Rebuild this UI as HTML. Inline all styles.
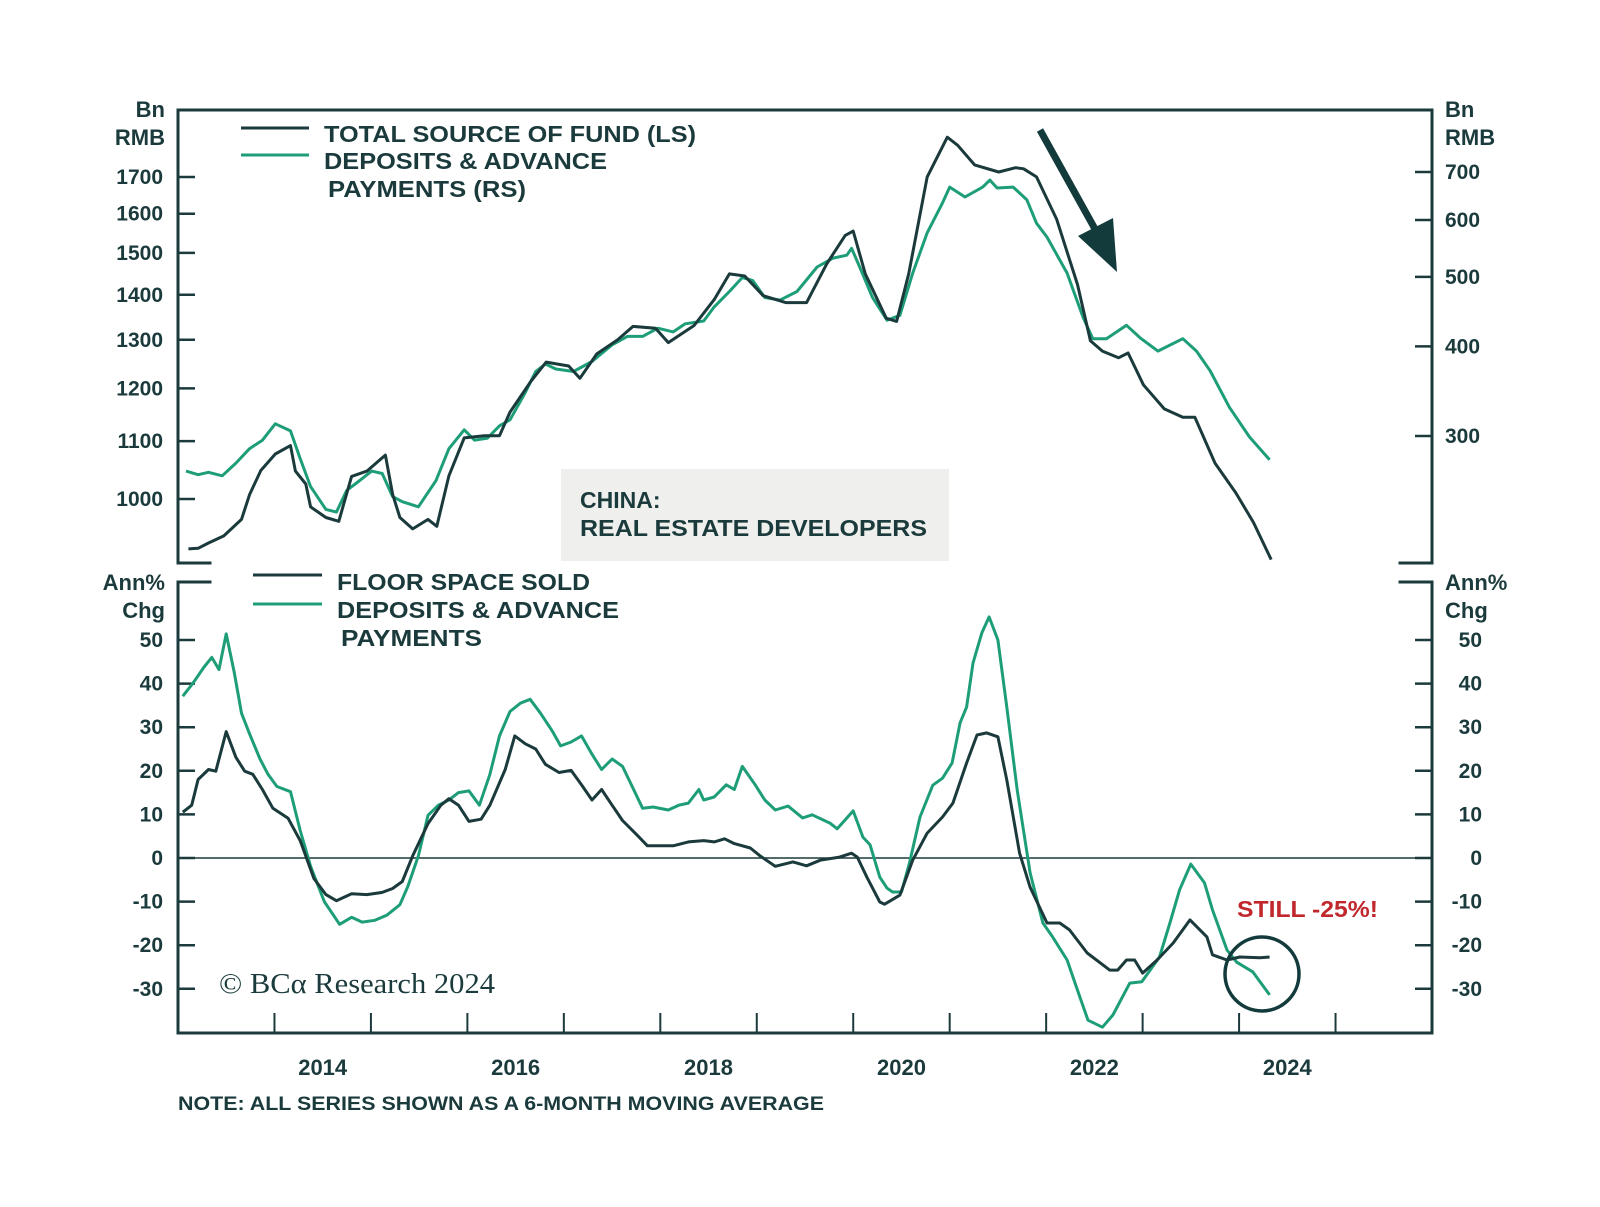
<!DOCTYPE html>
<html>
<head>
<meta charset="utf-8">
<style>
html,body{margin:0;padding:0;background:#fff;}
svg{display:block;}
text{font-family:"Liberation Sans",sans-serif;fill:#1b3a3c;font-weight:bold;}
</style>
</head>
<body>
<svg id="chart" width="1600" height="1207" viewBox="0 0 1600 1207" xmlns="http://www.w3.org/2000/svg">
  <rect x="0" y="0" width="1600" height="1207" fill="#ffffff"/>
  <rect x="561" y="469" width="388" height="92" fill="#efefed"/>
  <text x="580" y="508" font-size="23">CHINA:</text>
  <text x="580" y="536" font-size="23" textLength="347" lengthAdjust="spacingAndGlyphs">REAL ESTATE DEVELOPERS</text>
  <g id="axes"></g>
  <g id="series"></g>
  <g>
    <line x1="241" y1="128" x2="309" y2="128" stroke="#1b3a3c" stroke-width="3"/>
    <text x="324" y="142" font-size="23" textLength="372" lengthAdjust="spacingAndGlyphs">TOTAL SOURCE OF FUND (LS)</text>
    <line x1="241" y1="155" x2="309" y2="155" stroke="#1e9e78" stroke-width="3"/>
    <text x="324" y="169" font-size="23" textLength="283" lengthAdjust="spacingAndGlyphs">DEPOSITS &amp; ADVANCE</text>
    <text x="328" y="197" font-size="23" textLength="198" lengthAdjust="spacingAndGlyphs">PAYMENTS (RS)</text>
  </g>
  <g>
    <line x1="253" y1="575" x2="322" y2="575" stroke="#1b3a3c" stroke-width="3"/>
    <text x="337" y="590" font-size="23" textLength="253" lengthAdjust="spacingAndGlyphs">FLOOR SPACE SOLD</text>
    <line x1="253" y1="604" x2="322" y2="604" stroke="#1e9e78" stroke-width="3"/>
    <text x="337" y="618" font-size="23" textLength="282" lengthAdjust="spacingAndGlyphs">DEPOSITS &amp; ADVANCE</text>
    <text x="341" y="646" font-size="23" textLength="141" lengthAdjust="spacingAndGlyphs">PAYMENTS</text>
  </g>
  <g>
    <line x1="1040" y1="130" x2="1100" y2="238" stroke="#133b3c" stroke-width="7"/>
    <polygon points="1117,272 1078,236 1113,218" fill="#133b3c"/>
  </g>
  <text x="1237" y="917" font-size="23" fill="#c0282d" style="fill:#c0282d" textLength="141" lengthAdjust="spacingAndGlyphs">STILL -25%!</text>
  <circle cx="1262" cy="974" r="37" fill="none" stroke="#133b3c" stroke-width="3.5"/>
  <text x="219" y="993" font-size="28" style="font-family:'Liberation Serif',serif;font-weight:normal" textLength="276" lengthAdjust="spacingAndGlyphs">© BCα Research 2024</text>
  <text x="178" y="1110" font-size="19" textLength="646" lengthAdjust="spacingAndGlyphs">NOTE: ALL SERIES SHOWN AS A 6-MONTH MOVING AVERAGE</text>
</svg>
<script>
// ---- data (months since Jan 2013) ----
const tsfMonths = [1.3,2.5,3.8,5.7,7.9,8.9,10.3,12.1,14,14.6,15.9,16.5,18.4,20,21.6,23.5,25.8,26.7,27.6,29.2,31.1,32.2,33.7,35.6,38.1,40,41.3,43.9,45.8,48.6,50,52.1,54.7,56.6,59.4,61,64.2,66.7,68.6,70.5,72.8,75.6,78.2,80.7,83,84,85.5,88.1,89.4,90.9,93.2,95.7,97,99.1,102.1,104.2,105.2,106.8,109.3,111.9,113.5,115,117,118.2,120.1,122.7,125,126.5,129,131.6,133.8,136];
const tsfValues = [921,922,930,941,967,1007,1048,1077,1092,1047,1025,987,970,964,1038,1047,1075,1008,970,952,967,956,1039,1106,1110,1110,1154,1214,1253,1245,1220,1270,1300,1329,1325,1294,1331,1389,1449,1444,1398,1382,1382,1473,1544,1555,1449,1347,1340,1449,1700,1815,1791,1734,1714,1726,1723,1700,1586,1424,1298,1276,1262,1272,1207,1160,1144,1144,1061,1010,962,905];
const depMonths = [1.0,2.5,3.8,5.5,7.2,8.9,10.5,12.1,14,15.2,16.5,18.4,19.7,21,22.2,24.1,25.4,26.7,27.9,29.9,32.1,33.7,35.6,36.9,38.5,40,41.3,43.2,44.5,45.7,47,49.2,51.5,54,55.9,57.8,59.7,61.6,63.1,65.4,66.7,68.6,70.2,71.5,73,74.9,77,79.5,81.5,83.2,83.8,84.8,86.4,88.2,89.8,91.4,93.2,95.1,96,97.9,100.1,101,101.9,103.9,105.6,106.8,108.1,110.6,112.6,113.8,115.5,118,119.7,121.9,125,126.7,128.4,130.8,133.3,135.8];
const depValues = [268,265,267,264,275,288,296,312,305,279,255,237,235,252,258,268,266,247,243,239,260,288,306,296,298,310,316,345,369,378,372,369,381,402,413,413,424,419,430,434,454,477,499,494,468,464,477,516,531,536,548,516,468,435,442,506,576,634,667,646,667,682,665,667,640,594,568,506,439,410,410,428,411,394,410,394,370,329,299,278];
const floorMonths = [0.6,1.7,2.5,3.8,4.7,6,7.2,8.3,9.3,10.5,11.8,13.7,15.2,16.9,18.4,19.7,21.6,23.5,25.4,26.7,27.9,29.2,31.1,32.7,33.7,34.9,36.2,37.7,38.8,40.7,41.9,43.2,44.5,45.7,47.4,48.9,50.2,51.5,52.7,54,55.3,57.2,58.4,61.6,63.5,65.4,66.7,68,69.2,71.2,72.4,74.3,76.5,78.2,79.9,82.3,83.8,84.5,85.7,87.3,87.9,89.8,91.4,93.2,95.1,96.4,98.1,99.4,100.6,102,103.1,104.7,106,108.1,109.7,110.9,113.1,115.9,116.9,118,119,120,121.8,123.8,125.9,128,128.7,130.5,132.1,134.6,135.8];
const floorValues = [10.5,12.1,18,20.3,19.9,29,23.1,19.9,19.2,15.7,11.4,9.1,4,-4.7,-8.4,-9.8,-8.2,-8.4,-7.9,-7,-5.4,0.5,7.9,12.1,13.6,12.1,8.4,8.9,12.1,20.3,28,26.2,25,21.5,19.6,20.1,16.8,13.3,15.7,12.1,8.6,5.1,2.8,2.8,3.7,4,3.7,4.4,3.3,2.3,0.5,-1.9,-0.9,-1.8,-0.5,0.2,1.1,0.2,-4.4,-10.1,-10.6,-8.5,-0.5,5.7,9.4,12.6,21.8,28.2,28.7,27.8,17.9,1.1,-6.7,-14.9,-14.9,-16.5,-21.8,-25.7,-25.7,-23.4,-23.4,-26.4,-23.4,-19.5,-14.2,-18.1,-22.2,-23.4,-22.7,-22.9,-22.7];
const depChgMonths = [0.6,1.9,3.2,4.2,5.1,6,7,7.9,8.9,10.2,11.2,12.3,14,15.2,16.5,18.2,20.1,21.6,22.9,24.5,26,27.6,28.6,29.9,31.1,32.4,33.7,34.9,36.2,37.5,38.8,40,41.3,42.6,43.8,45.1,46.6,47.6,48.9,50.2,51.5,52.7,54,55.3,56.5,57.8,59.1,61,62.3,63.5,64.8,65.4,66.7,68.2,69.2,70.2,71.8,73,74.3,75.9,77.7,78.9,81.1,82,84,85.2,86.1,87.3,88.2,88.9,90,91,92.3,93.9,95.1,96.3,97.3,98.1,98.9,100,100.9,102,103.1,104.4,106,107.6,108.8,110.6,112.2,113.2,115,116.3,118.4,119.9,122.1,123.4,124.6,126,127.7,128.7,130.5,131.7,133.7,135.8];
const depChgValues = [37.1,40.2,43.7,46,43.2,51.4,42.5,33.2,28.5,22.7,19.2,16.4,15.2,6.3,-1.9,-10,-15.2,-13.6,-14.7,-14.3,-13.1,-10.7,-6.5,0.5,9.8,12.1,13.3,15,15.4,12.1,19.2,28,33.6,35.5,36.4,33.2,29,25.7,26.6,28,23.8,20.3,22.7,21,16.4,11.4,11.7,11,12.1,12.6,15.7,13.3,14,16.8,15.7,21,16.8,13.3,11,11.9,9.2,9.9,8,6.7,10.8,4.8,3,-4.4,-6.9,-7.8,-7.8,-1.1,9.4,16.7,18.3,21.8,31,34.6,44.7,51.6,55.3,50,34.6,15.6,-3.4,-14.9,-18.1,-23.4,-31.9,-37.2,-38.8,-36,-28.7,-28.4,-22.7,-14.9,-7.3,-1.4,-5.7,-11.9,-21.1,-23.9,-26.1,-31.4];
const leftTicks = [1000,1100,1200,1300,1400,1500,1600,1700];
const rightTicks = [300,400,500,600,700];
const chgTicks = [-30,-20,-10,0,10,20,30,40,50];
const yearTicks = [2014,2015,2016,2017,2018,2019,2020,2021,2022,2023,2024,2025];
const yearLabels = [2014,2016,2018,2020,2022,2024];

// ---- scales ----
const DARK = '#1b3a3c', GREEN = '#1e9e78';
const X0 = 178, X1 = 1432, PX_PER_YEAR = (X1 - X0) / 13;
function xM(m){ return X0 + m / 12 * PX_PER_YEAR; }
function xYear(y){ return X0 + (y - 2013) * PX_PER_YEAR; }
function yL(v){ return 499 - 1397.5 * Math.log10(v / 1000); }
function yR(v){ return 436 - 717.4 * Math.log10(v / 300); }
function yB(v){ return 858 - 4.36 * v; }

const NS = 'http://www.w3.org/2000/svg';
const axes = document.getElementById('axes');
const series = document.getElementById('series');
function mk(tag, attrs, parent, txt){
  const e = document.createElementNS(NS, tag);
  for (const k in attrs) e.setAttribute(k, attrs[k]);
  if (txt !== undefined) e.textContent = txt;
  parent.appendChild(e);
  return e;
}

// frames
const frameLines = [
  [X0,110,X1,110,'top-panel-top-frame'],[X0,110,X0,563,'top-panel-left-frame'],[X1,110,X1,563,'top-panel-right-frame'],
  [X0,563,210,563,'top-panel-bottom-stub-left'],[1400,563,X1,563,'top-panel-bottom-stub-right'],
  [X0,582,210,582,'bottom-panel-top-stub-left'],[1400,582,X1,582,'bottom-panel-top-stub-right'],
  [X0,582,X0,1033,'bottom-panel-left-frame'],[X1,582,X1,1033,'bottom-panel-right-frame'],[X0,1033,X1,1033,'bottom-panel-bottom-frame']
];
frameLines.forEach(f => {
  const l = mk('line', {x1:f[0], y1:f[1], x2:f[2], y2:f[3], stroke:DARK, 'stroke-width':3, 'stroke-linecap':'square'}, axes);
  
  
});
const zl = mk('line', {x1:X0, y1:yB(0), x2:X1, y2:yB(0), stroke:DARK, 'stroke-width':1.5}, axes);



// axis titles
[['Bn',165,117,'end','left-unit-line-1'],['RMB',165,145,'end','left-unit-line-2'],
 ['Bn',1445,117,'start','right-unit-line-1'],['RMB',1445,145,'start','right-unit-line-2'],
 ['Ann%',165,590,'end','left-chg-unit-line-1'],['Chg',165,618,'end','left-chg-unit-line-2'],
 ['Ann%',1445,590,'start','right-chg-unit-line-1'],['Chg',1445,618,'start','right-chg-unit-line-2']].forEach(t => {
  const e = mk('text', {x:t[1], y:t[2], 'text-anchor':t[3], 'font-size':22}, axes, t[0]);
  
  
});

// left ticks
leftTicks.forEach(v => {
  const y = yL(v);
  const l = mk('line', {x1:X0, y1:y, x2:X0+17, y2:y, stroke:DARK, 'stroke-width':2.5}, axes);
  
  
  const t = mk('text', {x:163, y:y+7, 'text-anchor':'end', 'font-size':21}, axes, String(v));
  
  
});
rightTicks.forEach(v => {
  const y = yR(v);
  const l = mk('line', {x1:X1-17, y1:y, x2:X1, y2:y, stroke:DARK, 'stroke-width':2.5}, axes);
  
  
  const t = mk('text', {x:1445, y:y+7, 'text-anchor':'start', 'font-size':21}, axes, String(v));
  
  
});
chgTicks.forEach(v => {
  const y = yB(v);
  const l1 = mk('line', {x1:X0, y1:y, x2:X0+17, y2:y, stroke:DARK, 'stroke-width':2.5}, axes);
  
  
  const l2 = mk('line', {x1:X1-17, y1:y, x2:X1, y2:y, stroke:DARK, 'stroke-width':2.5}, axes);
  
  
  const t1 = mk('text', {x:163, y:y+7, 'text-anchor':'end', 'font-size':21}, axes, String(v));
  
  
  const t2 = mk('text', {x:1482, y:y+7, 'text-anchor':'end', 'font-size':21}, axes, String(v));
  
  
});
yearTicks.forEach(yr => {
  const x = xYear(yr);
  const l = mk('line', {x1:x, y1:1013, x2:x, y2:1033, stroke:DARK, 'stroke-width':2}, axes);
  
  
});
yearLabels.forEach(yr => {
  const x = xYear(yr + 0.5);
  const t = mk('text', {x:x, y:1075, 'text-anchor':'middle', 'font-size':22}, axes, String(yr));
  
  
});

// series
function line(ms, vs, yf, color, name){
  const n = Math.min(ms.length, vs.length);
  let d = '';
  for (let i = 0; i < n; i++) d += (i ? 'L' : 'M') + xM(ms[i]).toFixed(1) + ',' + yf(vs[i]).toFixed(1);
  const p = mk('path', {d:d, fill:'none', stroke:color, 'stroke-width':3, 'stroke-linejoin':'round'}, series);
  
  
}
line(depMonths, depValues, yR, GREEN, 'deposits-advance-payments-line');
line(tsfMonths, tsfValues, yL, DARK, 'total-source-of-fund-line');
line(depChgMonths, depChgValues, yB, GREEN, 'deposits-advance-chg-line');
line(floorMonths, floorValues, yB, DARK, 'floor-space-sold-line');
</script>
</body>
</html>
